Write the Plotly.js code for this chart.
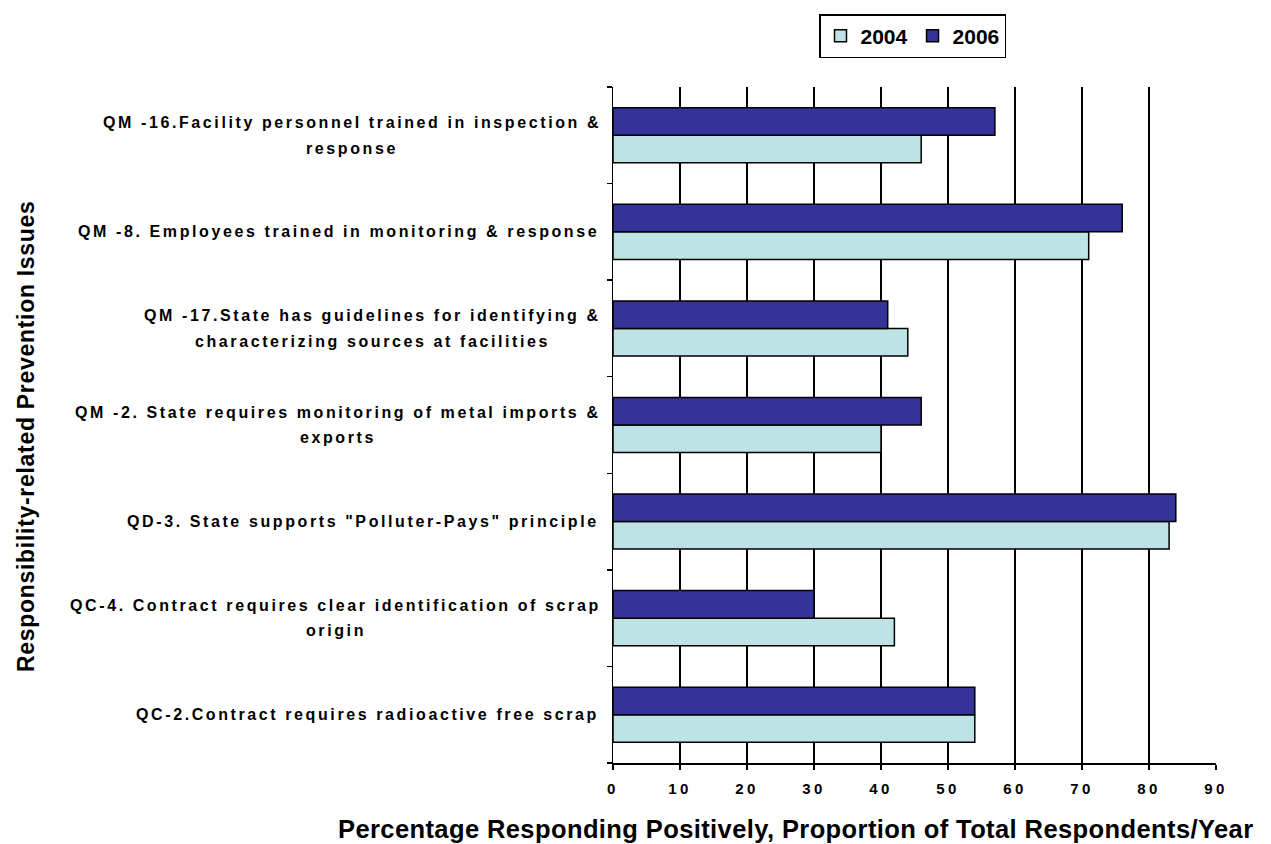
<!DOCTYPE html>
<html>
<head>
<meta charset="utf-8">
<script src="https://cdn.plot.ly/plotly-3.0.1.min.js"></script>
<style>
html,body{margin:0;padding:0;background:#fff;}
#chart{width:1271px;height:844px;}
.xtick text{letter-spacing:3.5px;}
.annotation-text{letter-spacing:2.6px;}
</style>
</head>
<body>
<div id="chart"></div>
<script>
// Categories listed bottom to top (Plotly category axis draws first at bottom)
const categories = [
  "QC-2.Contract requires radioactive free scrap",
  "QC-4. Contract requires clear identification of scrap<br>origin",
  "QD-3. State supports \"Polluter-Pays\" principle",
  "QM -2. State requires monitoring of metal imports &<br>exports",
  "QM -17.State has guidelines for identifying &<br>characterizing sources at facilities",
  "QM -8. Employees trained in monitoring & response",
  "QM -16.Facility personnel trained in inspection &<br>response"
];
const values2004 = [54, 42, 83, 40, 44, 71, 46];
const values2006 = [54, 30, 84, 46, 41, 76, 57];
const seriesNames = ["2004", "2006"];
const xTickVals = [0, 10, 20, 30, 40, 50, 60, 70, 80, 90];

const yTitle = "Responsibility-related Prevention Issues";
const xTitle = "Percentage Responding Positively, Proportion of Total Respondents/Year";

const font = "Arial, 'Liberation Sans', sans-serif";
const catKeys = categories.map((c, i) => "c" + i);

const PL = 613, PW = 603, PT = 87, PH = 676;
const labelRight = 601;

const traces = [
  {type: "bar", orientation: "h", name: seriesNames[0], x: values2004, y: catKeys,
   marker: {color: "#BDE3E4", line: {color: "#000", width: 1.5}}},
  {type: "bar", orientation: "h", name: seriesNames[1], x: values2006, y: catKeys,
   marker: {color: "#333399", line: {color: "#000", width: 1.5}}}
];

const annotations = [];
annotations.push({
  xref: "paper", yref: "paper", x: (26 - PL) / PW, y: (PT + PH - 436) / PH,
  xanchor: "center", yanchor: "middle", textangle: -90,
  text: "<span style=\"letter-spacing:0.7px\"><b>" + yTitle + "</b></span>", showarrow: false,
  font: {family: font, size: 23, color: "#000"}
});
annotations.push({
  xref: "paper", yref: "paper", x: (795 - PL) / PW, y: -(829 - PT - PH) / PH,
  xanchor: "center", yanchor: "middle",
  text: "<span style=\"letter-spacing:0.4px\"><b>" + xTitle + "</b></span>", showarrow: false,
  font: {family: font, size: 25.5, color: "#000"}
});
const lineMeta = [];
categories.forEach((lab, i) => {
  const lines = lab.split("<br>");
  const lh = 25.5;
  lines.forEach((ln, j) => {
    const shift = ((lines.length - 1) / 2 - j) * lh;
    lineMeta.push({idx: annotations.length, cat: i, n: lines.length});
    annotations.push({
      xref: "paper", yref: "y", x: (labelRight - PL) / PW, y: catKeys[i],
      xanchor: "right", yanchor: "middle", yshift: shift,
      text: "<b>" + ln + "</b>", showarrow: false,
      font: {family: font, size: 16, color: "#000"}
    });
  });
});

const layout = {
  width: 1271, height: 844,
  margin: {l: PL, r: 1271 - PL - PW, t: PT, b: 844 - PT - PH},
  paper_bgcolor: "#fff", plot_bgcolor: "#fff",
  barmode: "group", bargap: 0.43, bargroupgap: 0,
  showlegend: true,
  legend: {orientation: "h", x: (819 - PL) / PW, y: (PT + PH - 36) / PH, xanchor: "left", yanchor: "middle",
    bgcolor: "#fff", bordercolor: "#000", borderwidth: 1.5,
    font: {family: font, size: 21, color: "#000", weight: "bold"},
    traceorder: "normal", itemwidth: 30},
  xaxis: {range: [0, 90], tickvals: xTickVals, showgrid: true, gridcolor: "#000", gridwidth: 1.5,
    zeroline: false, showline: true, linecolor: "#000", linewidth: 1.5,
    ticks: "outside", ticklen: 5, tickcolor: "#000", tickwidth: 1.5, ticklabelstandoff: 6,
    tickfont: {family: font, size: 15, color: "#000", weight: "bold"}, fixedrange: true},
  yaxis: {type: "category", categoryorder: "array", categoryarray: catKeys,
    showticklabels: false, showgrid: false, zeroline: false,
    showline: true, linecolor: "#000", linewidth: 1.5,
    ticks: "outside", tickson: "boundaries", ticklen: 5, tickcolor: "#000", tickwidth: 1.5,
    fixedrange: true},
  annotations: annotations,
  font: {family: font}
};

const gd = document.getElementById("chart");
Plotly.newPlot(gd, traces, layout, {displayModeBar: false, staticPlot: true}).then(() => {
  // center multi-line labels as a block whose widest line ends at labelRight
  const widths = {};
  lineMeta.forEach(m => {
    const t = gd.querySelector('.annotation[data-index="' + m.idx + '"] .annotation-text');
    widths[m.idx] = t ? t.getBBox().width : 0;
  });
  const newAnn = annotations.map(a => Object.assign({}, a));
  categories.forEach((lab, i) => {
    const ms = lineMeta.filter(m => m.cat === i);
    if (ms.length < 2) return;
    const W = Math.max(...ms.map(m => widths[m.idx]));
    const cx = labelRight - W / 2;
    ms.forEach(m => {
      newAnn[m.idx].xanchor = "center";
      newAnn[m.idx].x = (cx - PL) / PW;
    });
  });
  return Plotly.relayout(gd, {annotations: newAnn});
});
</script>
</body>
</html>
